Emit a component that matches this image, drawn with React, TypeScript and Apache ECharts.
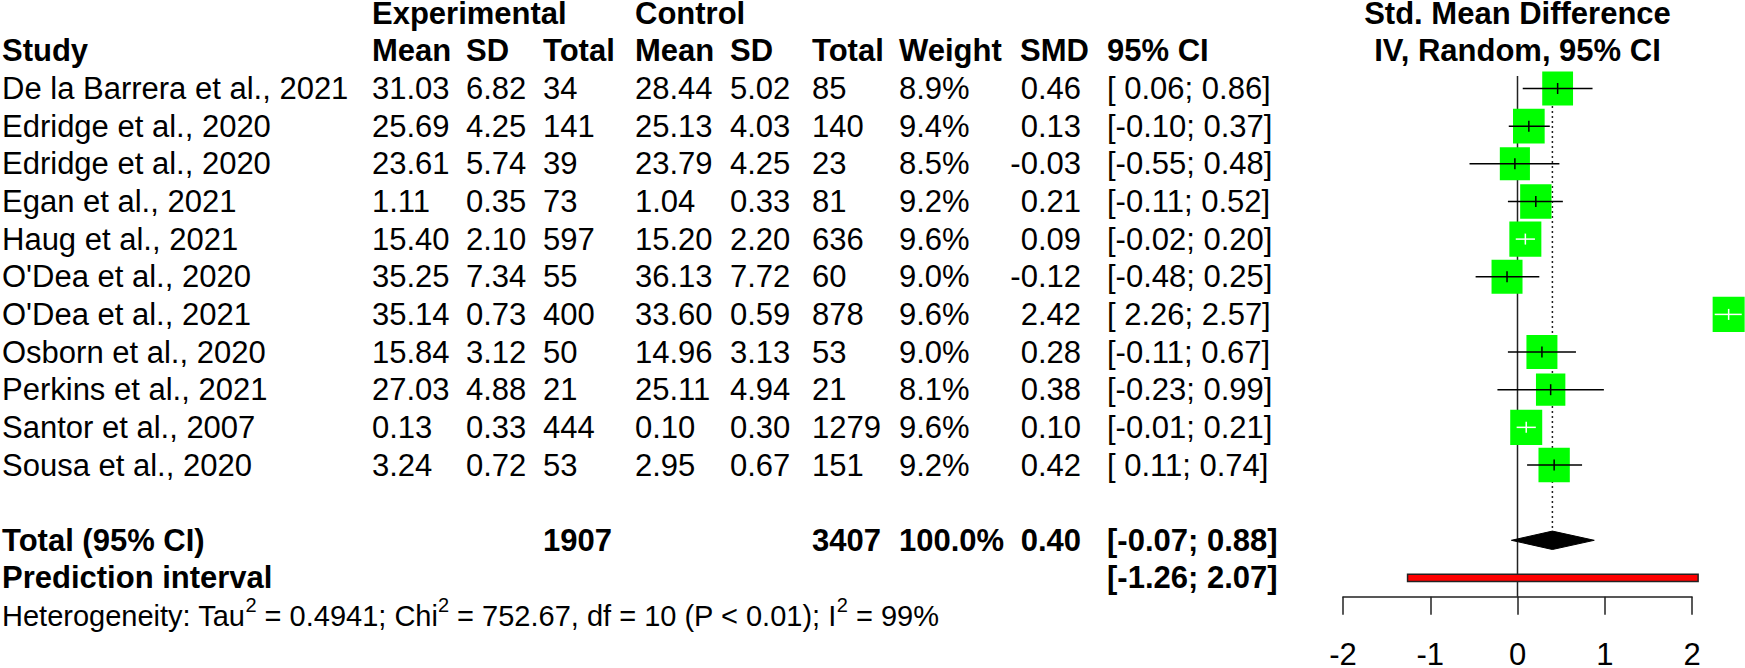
import React, { useEffect, useRef } from "react";
import * as echarts from "echarts";

// ---------------- data ----------------
const studies = [
  "De la Barrera et al., 2021",
  "Edridge et al., 2020",
  "Edridge et al., 2020",
  "Egan et al., 2021",
  "Haug et al., 2021",
  "O'Dea et al., 2020",
  "O'Dea et al., 2021",
  "Osborn et al., 2020",
  "Perkins et al., 2021",
  "Santor et al., 2007",
  "Sousa et al., 2020",
];
const expMean = [31.03, 25.69, 23.61, 1.11, 15.4, 35.25, 35.14, 15.84, 27.03, 0.13, 3.24];
const expSD = [6.82, 4.25, 5.74, 0.35, 2.1, 7.34, 0.73, 3.12, 4.88, 0.33, 0.72];
const expN = [34, 141, 39, 73, 597, 55, 400, 50, 21, 444, 53];
const ctlMean = [28.44, 25.13, 23.79, 1.04, 15.2, 36.13, 33.6, 14.96, 25.11, 0.1, 2.95];
const ctlSD = [5.02, 4.03, 4.25, 0.33, 2.2, 7.72, 0.59, 3.13, 4.94, 0.3, 0.67];
const ctlN = [85, 140, 23, 81, 636, 60, 878, 53, 21, 1279, 151];
const weights = [8.9, 9.4, 8.5, 9.2, 9.6, 9.0, 9.6, 9.0, 8.1, 9.6, 9.2];
const smd = [0.46, 0.13, -0.03, 0.21, 0.09, -0.12, 2.42, 0.28, 0.38, 0.1, 0.42];
const ciLow = [0.06, -0.1, -0.55, -0.11, -0.02, -0.48, 2.26, -0.11, -0.23, -0.01, 0.11];
const ciHigh = [0.86, 0.37, 0.48, 0.52, 0.2, 0.25, 2.57, 0.67, 0.99, 0.21, 0.74];
const totalExpN = 1907;
const totalCtlN = 3407;
const totalWeight = 100.0;
const pooledSMD = 0.4;
const pooledLow = -0.07;
const pooledHigh = 0.88;
const predLow = -1.26;
const predHigh = 2.07;
const xTicks = [-2, -1, 0, 1, 2];
const hetText = "Heterogeneity: Tau{sup|2} = 0.4941; Chi{sup|2} = 752.67, df = 10 (P < 0.01); I{sup|2} = 99%";

// ---------------- layout ----------------
const W = 1745;
const H = 668;
const FONT = "'Liberation Sans', Arial, sans-serif";
const FS = 31;
const ROW0 = 88.5;
const ROWH = 37.65;
const PLOT_LEFT = 1343;
const PLOT_RIGHT = 1692;
const COL = {
  study: 2,
  eMean: 372,
  eSD: 466,
  eN: 543,
  cMean: 635,
  cSD: 730,
  cN: 812,
  weight: 899,
  smdEnd: 1081,
  smdHead: 1020,
  ci: 1107,
};
const TOTAL_ROW = 12;
const PRED_ROW = 13;
const HET_ROW = 14;

const f2 = (v: number) => v.toFixed(2);
const fci = (lo: number, hi: number) =>
  "[" + (lo < 0 ? f2(lo) : " " + f2(lo)) + "; " + f2(hi) + "]";

type Cell = {
  x: number;
  row: number;
  text: string;
  bold?: boolean;
  align?: string;
  size?: number;
  rich?: any;
};

function buildCells(): Cell[] {
  const cells: Cell[] = [];
  const plotMid = (PLOT_LEFT + PLOT_RIGHT) / 2;
  // header rows
  cells.push({ x: COL.eMean, row: -2, text: "Experimental", bold: true });
  cells.push({ x: COL.cMean, row: -2, text: "Control", bold: true });
  cells.push({ x: plotMid, row: -2, text: "Std. Mean Difference", bold: true, align: "center" });
  cells.push({ x: COL.study, row: -1, text: "Study", bold: true });
  cells.push({ x: COL.eMean, row: -1, text: "Mean", bold: true });
  cells.push({ x: COL.eSD, row: -1, text: "SD", bold: true });
  cells.push({ x: COL.eN, row: -1, text: "Total", bold: true });
  cells.push({ x: COL.cMean, row: -1, text: "Mean", bold: true });
  cells.push({ x: COL.cSD, row: -1, text: "SD", bold: true });
  cells.push({ x: COL.cN, row: -1, text: "Total", bold: true });
  cells.push({ x: COL.weight, row: -1, text: "Weight", bold: true });
  cells.push({ x: COL.smdHead, row: -1, text: "SMD", bold: true });
  cells.push({ x: COL.ci, row: -1, text: "95% CI", bold: true });
  cells.push({ x: plotMid, row: -1, text: "IV, Random, 95% CI", bold: true, align: "center" });
  // study rows
  studies.forEach((s, i) => {
    cells.push({ x: COL.study, row: i, text: s });
    cells.push({ x: COL.eMean, row: i, text: f2(expMean[i]) });
    cells.push({ x: COL.eSD, row: i, text: f2(expSD[i]) });
    cells.push({ x: COL.eN, row: i, text: String(expN[i]) });
    cells.push({ x: COL.cMean, row: i, text: f2(ctlMean[i]) });
    cells.push({ x: COL.cSD, row: i, text: f2(ctlSD[i]) });
    cells.push({ x: COL.cN, row: i, text: String(ctlN[i]) });
    cells.push({ x: COL.weight, row: i, text: weights[i].toFixed(1) + "%" });
    cells.push({ x: COL.smdEnd, row: i, text: f2(smd[i]), align: "right" });
    cells.push({ x: COL.ci, row: i, text: fci(ciLow[i], ciHigh[i]) });
  });
  // total
  cells.push({ x: COL.study, row: TOTAL_ROW, text: "Total (95% CI)", bold: true });
  cells.push({ x: COL.eN, row: TOTAL_ROW, text: String(totalExpN), bold: true });
  cells.push({ x: COL.cN, row: TOTAL_ROW, text: String(totalCtlN), bold: true });
  cells.push({ x: COL.weight, row: TOTAL_ROW, text: totalWeight.toFixed(1) + "%", bold: true });
  cells.push({ x: COL.smdEnd, row: TOTAL_ROW, text: f2(pooledSMD), bold: true, align: "right" });
  cells.push({ x: COL.ci, row: TOTAL_ROW, text: fci(pooledLow, pooledHigh), bold: true });
  // prediction
  cells.push({ x: COL.study, row: PRED_ROW, text: "Prediction interval", bold: true });
  cells.push({ x: COL.ci, row: PRED_ROW, text: fci(predLow, predHigh), bold: true });
  // heterogeneity
  cells.push({
    x: COL.study,
    row: HET_ROW,
    text: hetText,
    size: 29,
    rich: {
      sup: {
        fontSize: 20,
        lineHeight: 20,
        fontFamily: FONT,
        fill: "#000",
        verticalAlign: "top",
      },
    },
  });
  return cells;
}

const yToPx = (r: number) => ROW0 + ROWH * r;

export default function App() {
  const ref = useRef<HTMLDivElement>(null);

  useEffect(() => {
    document.body.style.margin = "0";
    if (!ref.current) return;
    const chart = echarts.init(ref.current, null, { renderer: "svg", width: W, height: H });
    const cells = buildCells();

    const pMin = -0.5;
    const pMax = 13.5;
    const tMin = -2.3;
    const tMax = 14.5;

    const option: any = {
      animation: false,
      backgroundColor: "#ffffff",
      grid: [
        {
          left: PLOT_LEFT,
          width: PLOT_RIGHT - PLOT_LEFT,
          top: yToPx(pMin),
          height: ROWH * (pMax - pMin),
          outerBoundsMode: "none",
          containLabel: false,
        },
        {
          left: 0,
          width: W,
          top: yToPx(tMin),
          height: ROWH * (tMax - tMin),
          outerBoundsMode: "none",
          containLabel: false,
        },
      ],
      xAxis: [
        {
          gridIndex: 0,
          type: "value",
          min: -2,
          max: 2,
          interval: 1,
          position: "bottom",
          axisLine: { show: true, onZero: false, lineStyle: { color: "#222", width: 1.5 } },
          axisTick: { show: true, length: 18, lineStyle: { color: "#222", width: 1.5 } },
          splitLine: { show: false },
          axisLabel: {
            show: true,
            margin: 58,
            verticalAlign: "middle",
            lineHeight: 20,
            fontSize: FS,
            fontFamily: FONT,
            color: "#000",
            formatter: (v: number) => (xTicks.indexOf(v) >= 0 ? String(v) : ""),
          },
        },
        { gridIndex: 1, type: "value", min: 0, max: W, show: false },
      ],
      yAxis: [
        { gridIndex: 0, type: "value", min: pMin, max: pMax, inverse: true, show: false },
        { gridIndex: 1, type: "value", min: tMin, max: tMax, inverse: true, show: false },
      ],
      series: [
        // zero line
        {
          type: "line",
          xAxisIndex: 0,
          yAxisIndex: 0,
          data: [
            [0, -0.33],
            [0, pMax],
          ],
          symbol: "none",
          silent: true,
          lineStyle: { color: "#222", width: 1.5 },
          z: 1,
        },
        // pooled estimate dotted line
        {
          type: "line",
          xAxisIndex: 0,
          yAxisIndex: 0,
          data: [
            [pooledSMD, -0.33],
            [pooledSMD, TOTAL_ROW - 0.24],
          ],
          symbol: "none",
          silent: true,
          lineStyle: { color: "#222", width: 1.5, type: [2, 3] },
          z: 1,
        },
        // study boxes + CIs
        {
          type: "custom",
          xAxisIndex: 0,
          yAxisIndex: 0,
          clip: false,
          silent: true,
          z: 3,
          data: smd.map((v, i) => [v, i, ciLow[i], ciHigh[i], weights[i]]),
          renderItem: (params: any, api: any) => {
            const x = api.value(0);
            const row = api.value(1);
            const lo = api.value(2);
            const hi = api.value(3);
            const w = api.value(4);
            const c = api.coord([x, row]);
            const pl = api.coord([lo, row]);
            const ph = api.coord([hi, row]);
            const bw = 32 * Math.sqrt(w / 9.6);
            const bh = bw * 1.1;
            const inside = pl[0] >= c[0] - bw / 2 && ph[0] <= c[0] + bw / 2;
            const lc = inside ? "#ffffff" : "#000000";
            return {
              type: "group",
              children: [
                {
                  type: "rect",
                  shape: { x: c[0] - bw / 2, y: c[1] - bh / 2, width: bw, height: bh },
                  style: { fill: "#00ff00" },
                },
                {
                  type: "line",
                  shape: { x1: pl[0], y1: c[1], x2: ph[0], y2: c[1] },
                  style: { stroke: lc, lineWidth: 1.5 },
                },
                {
                  type: "line",
                  shape: { x1: c[0], y1: c[1] - 5.5, x2: c[0], y2: c[1] + 5.5 },
                  style: { stroke: lc, lineWidth: 1.5 },
                },
              ],
            };
          },
        },
        // pooled diamond
        {
          type: "custom",
          xAxisIndex: 0,
          yAxisIndex: 0,
          clip: false,
          silent: true,
          z: 3,
          data: [[pooledSMD, TOTAL_ROW, pooledLow, pooledHigh]],
          renderItem: (params: any, api: any) => {
            const c = api.coord([api.value(0), api.value(1)]);
            const l = api.coord([api.value(2), api.value(1)]);
            const r = api.coord([api.value(3), api.value(1)]);
            const hh = 9.2;
            return {
              type: "polygon",
              shape: {
                points: [
                  [l[0], c[1]],
                  [c[0], c[1] - hh],
                  [r[0], c[1]],
                  [c[0], c[1] + hh],
                ],
              },
              style: { fill: "#000", stroke: "#000", lineWidth: 1 },
            };
          },
        },
        // prediction interval bar
        {
          type: "custom",
          xAxisIndex: 0,
          yAxisIndex: 0,
          clip: false,
          silent: true,
          z: 3,
          data: [[predLow, predHigh, PRED_ROW]],
          renderItem: (params: any, api: any) => {
            const l = api.coord([api.value(0), api.value(2)]);
            const r = api.coord([api.value(1), api.value(2)]);
            const hh = 3.6;
            return {
              type: "rect",
              shape: { x: l[0], y: l[1] - hh, width: r[0] - l[0], height: hh * 2 },
              style: { fill: "#ff0000", stroke: "#222", lineWidth: 1.5 },
            };
          },
        },
        // table text
        {
          type: "custom",
          xAxisIndex: 1,
          yAxisIndex: 1,
          clip: false,
          silent: true,
          z: 5,
          data: cells.map((c) => [c.x, c.row]),
          renderItem: (params: any, api: any) => {
            const cell = cells[params.dataIndex];
            const p = api.coord([cell.x, cell.row]);
            const style: any = {
              text: cell.text,
              fill: "#000",
              fontSize: cell.size || FS,
              fontWeight: cell.bold ? "bold" : "normal",
              fontFamily: FONT,
              align: cell.align || "left",
              verticalAlign: "middle",
              lineHeight: 24,
            };
            if (cell.rich) {
              style.rich = cell.rich;
              style.lineHeight = 41;
            }
            return { type: "text", x: p[0], y: p[1], style };
          },
        },
      ],
    };

    chart.setOption(option);
    return () => {
      chart.dispose();
    };
  }, []);

  return (
    <div
      ref={ref}
      style={{ position: "fixed", left: 0, top: 0, width: W, height: H, background: "#fff" }}
    />
  );
}
